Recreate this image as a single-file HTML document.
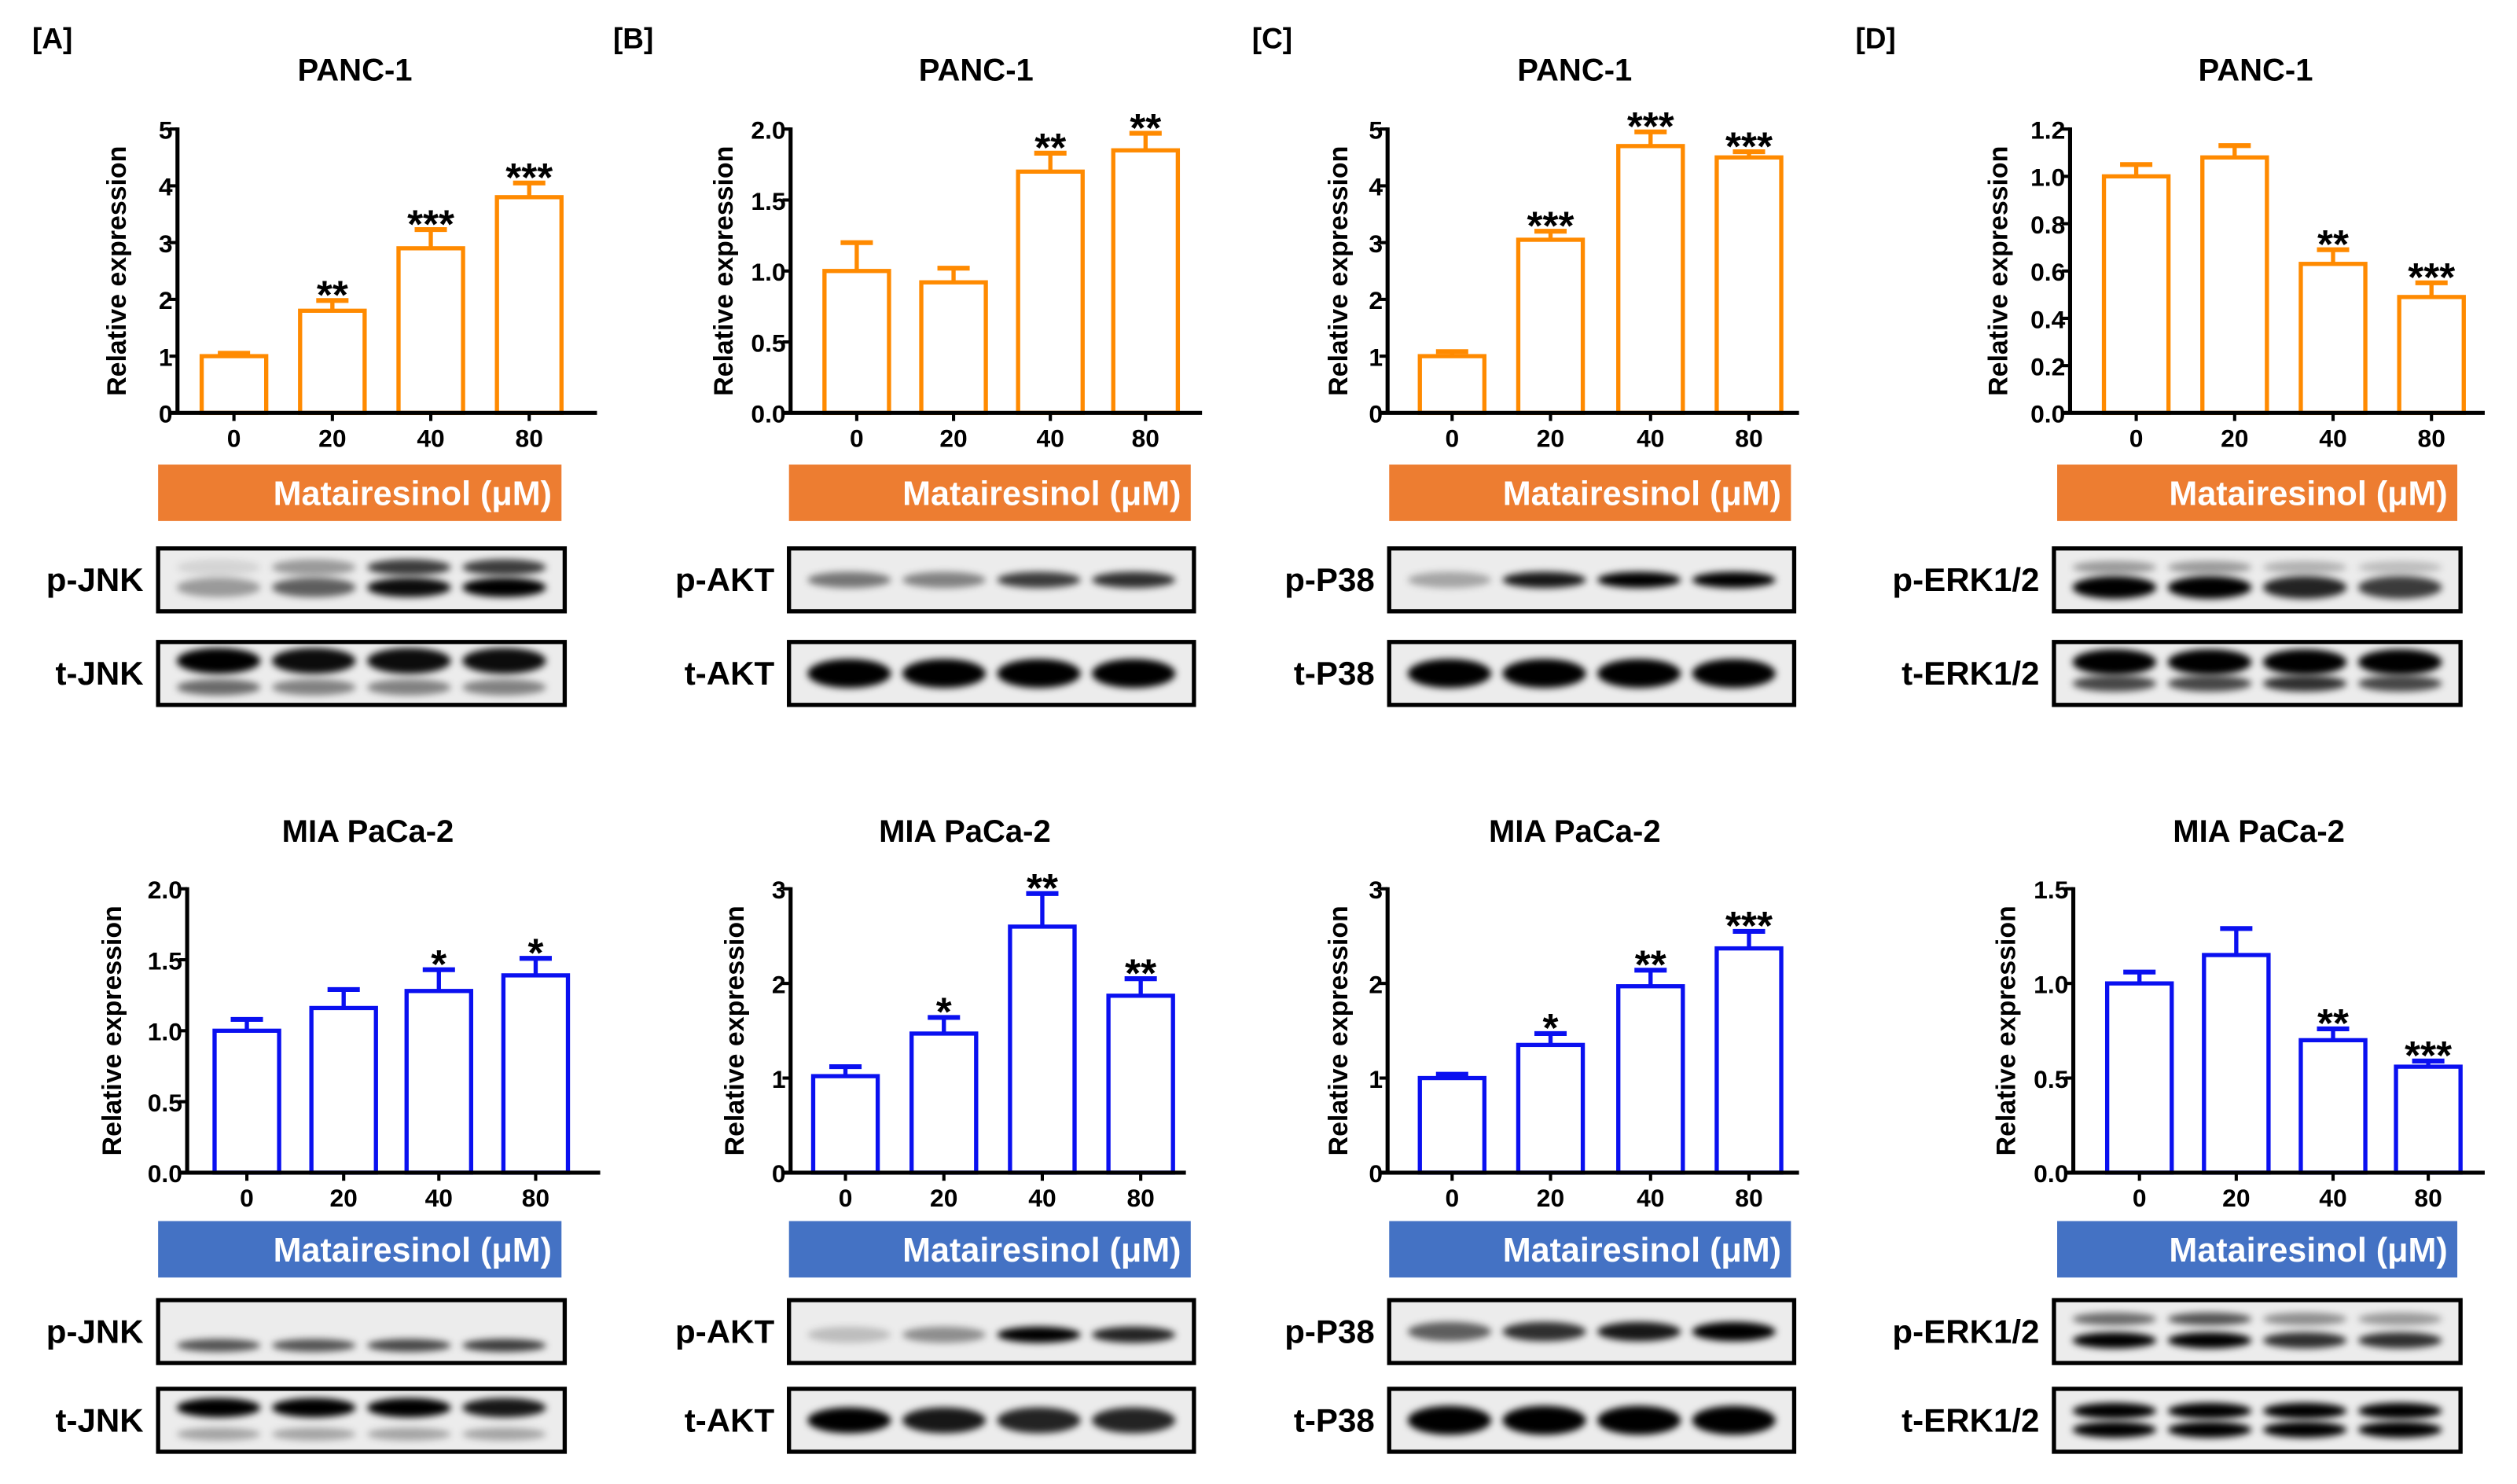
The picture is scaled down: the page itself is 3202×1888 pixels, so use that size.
<!DOCTYPE html>
<html><head><meta charset="utf-8"><style>
html,body{margin:0;padding:0;background:#fff;}
svg{display:block;font-family:"Liberation Sans",Arial,sans-serif;font-weight:bold;}
</style></head><body>
<svg id="fig" width="3202" height="1888" viewBox="0 0 1560 920" preserveAspectRatio="none" xmlns="http://www.w3.org/2000/svg">
<defs>
<filter id="blur" x="-20%" y="-100%" width="140%" height="300%"><feGaussianBlur stdDeviation="2.2"/></filter>
</defs>
</svg>
<script>
const categories = ['0','20','40','80'];
const aTopVals = [1.0, 1.8, 2.9, 3.8];
const aTopErr = [0.05, 0.18, 0.33, 0.25];
const aTopStars = ['', '**', '***', '***'];
const bTopVals = [1.0, 0.92, 1.7, 1.85];
const bTopErr = [0.2, 0.1, 0.13, 0.12];
const bTopStars = ['', '', '**', '**'];
const cTopVals = [1.0, 3.05, 4.7, 4.5];
const cTopErr = [0.08, 0.15, 0.25, 0.1];
const cTopStars = ['', '***', '***', '***'];
const dTopVals = [1.0, 1.08, 0.63, 0.49];
const dTopErr = [0.05, 0.05, 0.06, 0.06];
const dTopStars = ['', '', '**', '***'];
const aBotVals = [1.0, 1.16, 1.28, 1.39];
const aBotErr = [0.08, 0.13, 0.15, 0.12];
const aBotStars = ['', '', '*', '*'];
const bBotVals = [1.02, 1.47, 2.6, 1.87];
const bBotErr = [0.1, 0.17, 0.35, 0.18];
const bBotStars = ['', '*', '**', '**'];
const cBotVals = [1.0, 1.35, 1.97, 2.37];
const cBotErr = [0.04, 0.12, 0.17, 0.18];
const cBotStars = ['', '*', '**', '***'];
const dBotVals = [1.0, 1.15, 0.7, 0.56];
const dBotErr = [0.06, 0.14, 0.06, 0.03];
const dBotStars = ['', '', '**', '***'];

const NS='http://www.w3.org/2000/svg';
const svg=document.getElementById('fig');
function el(tag,attrs,parent,text){const e=document.createElementNS(NS,tag);for(const k in attrs)e.setAttribute(k,attrs[k]);if(text!==undefined)e.textContent=text;(parent||svg).appendChild(e);return e;}

const ORANGE='#ff8a00', BLUE='#0a10f0', BOR='#ed7d31', BBL='#4472c4';

const panels=[
 {id:'a-top',vals:aTopVals,err:aTopErr,stars:aTopStars,max:5,step:1,dec:0,ax:110,xEnd:370,centers:[145,206,267,328],yl:78,title:'PANC-1',tx:220,ty:50,top:80,base:256,color:ORANGE},
 {id:'b-top',vals:bTopVals,err:bTopErr,stars:bTopStars,max:2,step:0.5,dec:1,ax:490,xEnd:745,centers:[531,591,651,710],yl:454,title:'PANC-1',tx:605,ty:50,top:80,base:256,color:ORANGE},
 {id:'c-top',vals:cTopVals,err:cTopErr,stars:cTopStars,max:5,step:1,dec:0,ax:860,xEnd:1115,centers:[900,961,1023,1084],yl:835,title:'PANC-1',tx:976,ty:50,top:80,base:256,color:ORANGE},
 {id:'d-top',vals:dTopVals,err:dTopErr,stars:dTopStars,max:1.2,step:0.2,dec:1,ax:1283,xEnd:1540,centers:[1324,1385,1446,1507],yl:1244,title:'PANC-1',tx:1398,ty:50,top:80,base:256,color:ORANGE},
 {id:'a-bottom',vals:aBotVals,err:aBotErr,stars:aBotStars,max:2,step:0.5,dec:1,ax:116,xEnd:372,centers:[153,213,272,332],yl:75,title:'MIA PaCa-2',tx:228,ty:522,top:551,base:727,color:BLUE},
 {id:'b-bottom',vals:bBotVals,err:bBotErr,stars:bBotStars,max:3,step:1,dec:0,ax:490,xEnd:735,centers:[524,585,646,707],yl:461,title:'MIA PaCa-2',tx:598,ty:522,top:551,base:727,color:BLUE},
 {id:'c-bottom',vals:cBotVals,err:cBotErr,stars:cBotStars,max:3,step:1,dec:0,ax:860,xEnd:1115,centers:[900,961,1023,1084],yl:835,title:'MIA PaCa-2',tx:976,ty:522,top:551,base:727,color:BLUE},
 {id:'d-bottom',vals:dBotVals,err:dBotErr,stars:dBotStars,max:1.5,step:0.5,dec:1,ax:1285,xEnd:1540,centers:[1326,1386,1446,1505],yl:1249,title:'MIA PaCa-2',tx:1400,ty:522,top:551,base:727,color:BLUE}
];

['[A]','[B]','[C]','[D]'].forEach((t,i)=>{
 const e=el('text',{x:[20,380,776,1150][i],y:30,'font-size':18},svg,t);
 
 
});

panels.forEach(p=>{
 const g=el('g',{});
 
 
 const y=v=>p.base-(v/p.max)*(p.base-p.top);
 const t=el('text',{x:p.tx,y:p.ty,'font-size':19.5,'text-anchor':'middle'},g,p.title);
 
 
 const yt=el('text',{transform:`translate(${p.yl},${(p.top+p.base)/2}) rotate(-90)`,'font-size':16.5,'text-anchor':'middle'},g,'Relative expression');
 
 
 p.vals.forEach((v,i)=>{
  const cx=p.centers[i], w=40;
  const eb=el('g',{},g);
  
  
  el('line',{x1:cx,x2:cx,y1:y(v),y2:y(v+p.err[i]),stroke:p.color,'stroke-width':2.6},eb);
  el('line',{x1:cx-10,x2:cx+10,y1:y(v+p.err[i]),y2:y(v+p.err[i]),stroke:p.color,'stroke-width':3},eb);
  const r=el('rect',{x:cx-w/2,y:y(v),width:w,height:p.base-y(v),fill:'#fff',stroke:p.color,'stroke-width':2.6},g);
  
  
  if(p.stars[i]){
   const s=el('text',{x:cx,y:y(v+p.err[i])+5,'font-size':25,'text-anchor':'middle'},g,p.stars[i]);
   
   
  }
  el('line',{x1:cx,x2:cx,y1:p.base,y2:p.base+5,stroke:'#000','stroke-width':2},g);
  const xl=el('text',{x:cx,y:p.base+21,'font-size':15.5,'text-anchor':'middle'},g,categories[i]);
  
  
 });
 const ya=el('line',{x1:p.ax,x2:p.ax,y1:p.top-1,y2:p.base+1,stroke:'#000','stroke-width':2.5},g);
 
 
 const xa=el('line',{x1:p.ax-4,x2:p.xEnd,y1:p.base,y2:p.base,stroke:'#000','stroke-width':2.5},g);
 
 
 const n=Math.round(p.max/p.step);
 for(let k=0;k<=n;k++){
  const v=k*p.step;
  el('line',{x1:p.ax-5,x2:p.ax,y1:y(v),y2:y(v),stroke:'#000','stroke-width':2},g);
  const tl=el('text',{x:p.ax-3,y:y(v)+6,'font-size':15.5,'text-anchor':'end'},g,v.toFixed(p.dec));
  
  
 }
});

const bx=[[98,348],[489,738],[861,1110],[1275,1523]];
[[288,BOR],[757,BBL]].forEach(([by,col],r)=>{
 bx.forEach(([x1,x2],i)=>{
  const g=el('g',{});
  
  
  el('rect',{x:x1,y:by,width:x2-x1,height:35,fill:col},g);
  el('text',{x:x2-6,y:by+25,'font-size':21,fill:'#fff','text-anchor':'end'},g,'Matairesinol (μM)');
 });
});

const blotX=[[98,350],[489,740],[861,1112],[1273,1525]];
const blots=[
 [0,340,'p-JNK',[[0.3,5,[0.1,0.35,0.75,0.75]],[0.62,6,[0.35,0.6,0.95,1]]]],
 [0,398,'t-JNK',[[0.3,8,[1,0.95,0.95,0.95]],[0.72,5,[0.55,0.45,0.45,0.45]]]],
 [1,340,'p-AKT',[[0.5,5,[0.5,0.45,0.75,0.8]]]],
 [1,398,'t-AKT',[[0.5,9,[1,1,1,1]]]],
 [2,340,'p-P38',[[0.5,5,[0.3,0.9,1,1]]]],
 [2,398,'t-P38',[[0.5,9,[1,1,1,1]]]],
 [3,340,'p-ERK1/2',[[0.3,4,[0.35,0.35,0.25,0.2]],[0.62,7,[1,1,0.85,0.75]]]],
 [3,398,'t-ERK1/2',[[0.32,8,[1,1,1,1]],[0.66,5,[0.7,0.7,0.8,0.7]]]],
 [0,806,'p-JNK',[[0.72,4,[0.65,0.65,0.7,0.75]]]],
 [0,861,'t-JNK',[[0.3,6,[1,1,1,0.9]],[0.72,4,[0.3,0.3,0.3,0.3]]]],
 [1,806,'p-AKT',[[0.55,5,[0.2,0.4,1,0.85]]]],
 [1,861,'t-AKT',[[0.5,8,[1,0.9,0.85,0.85]]]],
 [2,806,'p-P38',[[0.5,6,[0.6,0.8,0.9,1]]]],
 [2,861,'t-P38',[[0.5,9,[1,1,1,1]]]],
 [3,806,'p-ERK1/2',[[0.3,4,[0.55,0.65,0.4,0.35]],[0.64,5,[1,1,0.8,0.8]]]],
 [3,861,'t-ERK1/2',[[0.35,5,[1,1,1,1]],[0.65,5,[1,1,1,1]]]]
];
blots.forEach(([pi,by,label,rows])=>{
 const [x1,x2]=blotX[pi], h=39;
 const g=el('g',{});
 
 
 el('rect',{x:x1,y:by,width:x2-x1,height:h,fill:'#ececec'},g);
 const lw=(x2-x1-16)/4;
 rows.forEach(([f,th,ints])=>{
  ints.forEach((a,i)=>{
   const cx=x1+8+lw*(i+0.5);
   el('ellipse',{cx:cx,cy:by+h*f,rx:lw*0.44,ry:th,fill:'#000','fill-opacity':a,filter:'url(#blur)'},g);
  });
 });
 el('rect',{x:x1,y:by,width:x2-x1,height:h,fill:'none',stroke:'#000','stroke-width':2.6},g);
 const t=el('text',{x:x1-9,y:by+h/2+7,'font-size':20.5,'text-anchor':'end'},g,label);
 
 
});
</script>
</body></html>
